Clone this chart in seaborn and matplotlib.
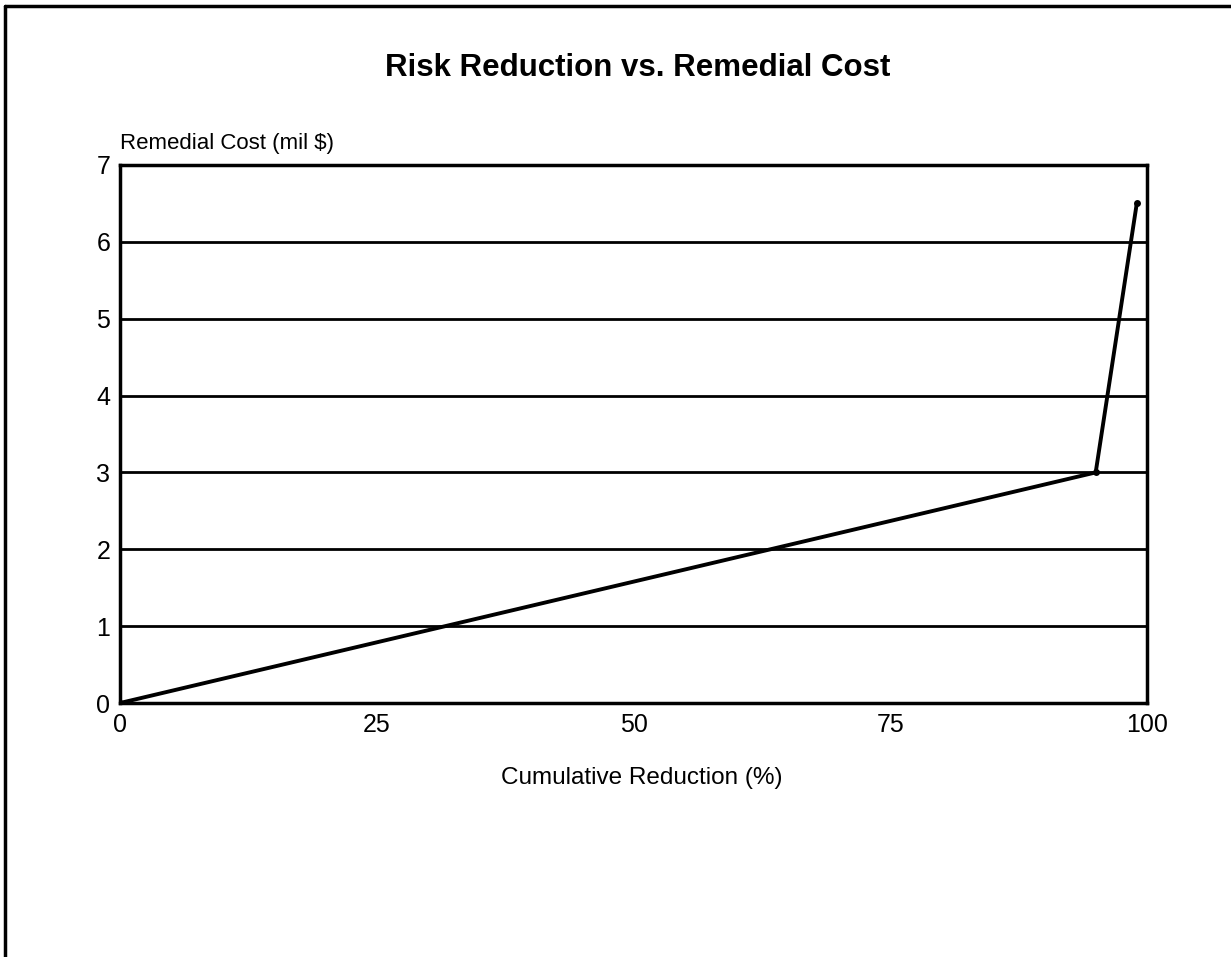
import pandas as pd
import seaborn as sns
from matplotlib import pyplot as plt
from matplotlib.lines import Line2D

reduction = [0, 95, 99]
cost = [0, 3.0, 6.5]
x_ticks = [0, 25, 50, 75, 100]
y_ticks = [0, 1, 2, 3, 4, 5, 6, 7]

df = pd.DataFrame({"reduction": reduction, "cost": cost})

sns.set_style("white")
plt.rcParams["font.family"] = ["Liberation Sans", "DejaVu Sans"]
plt.rcParams["text.color"] = "black"
plt.rcParams["axes.labelcolor"] = "black"
plt.rcParams["xtick.color"] = "black"
plt.rcParams["ytick.color"] = "black"

fig = plt.figure(figsize=(12.31, 9.57), dpi=100)
ax = fig.add_axes([0.0975, 0.2654, 0.8343, 0.5622])

for y in y_ticks[1:-1]:
    ax.axhline(y, color="black", lw=2, zorder=1)

sns.lineplot(data=df, x="reduction", y="cost", ax=ax, color="black", lw=2.8,
             marker="o", markersize=5, markeredgewidth=0, zorder=3)

ax.set_xlim(0, 100)
ax.set_ylim(0, 7)
ax.set_xticks(x_ticks)
ax.set_yticks(y_ticks)
ax.tick_params(length=0, labelsize=18, pad=7)
for s in ax.spines.values():
    s.set_color("black")
    s.set_linewidth(2.5)

ax.set_xlabel("Cumulative Reduction (%)", fontsize=17.5, labelpad=22)
ax.xaxis.label.set_x(0.508)
ax.set_ylabel("")
fig.text(120 / 1231, 1 - 143 / 957, "Remedial Cost (mil $)", fontsize=16,
         ha="left", va="center")
fig.text(638 / 1231, 1 - 68 / 957, "Risk Reduction vs. Remedial Cost",
         fontsize=22.5, fontweight="bold", ha="center", va="center")

# outer frame (top and left edges only)
fig.add_artist(Line2D([5 / 1231, 1], [1 - 6 / 957, 1 - 6 / 957],
                      transform=fig.transFigure, color="black", lw=2.5))
fig.add_artist(Line2D([5 / 1231, 5 / 1231], [0, 1 - 6 / 957],
                      transform=fig.transFigure, color="black", lw=2.5))

plt.savefig("out.png", dpi=100)
